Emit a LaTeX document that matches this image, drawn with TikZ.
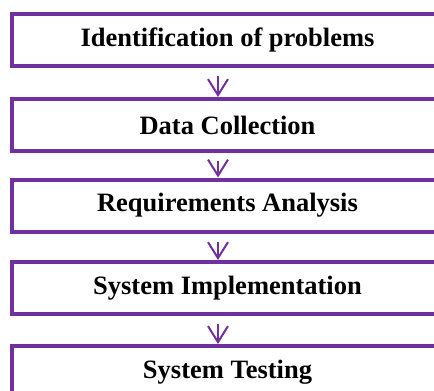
\documentclass[tikz,border=0pt]{standalone}
\usepackage{fontspec}
\setmainfont{Liberation Serif}
\usetikzlibrary{positioning,arrows.meta}
\definecolor{stagepurple}{RGB}{112,48,160}

\begin{document}
\begin{tikzpicture}
[x=1pt,y=1pt,
 stage/.style={rectangle,draw=stagepurple,line width=4pt,minimum width=431pt,minimum height=52pt,
               inner sep=0pt,font=\fontsize{26.5}{30}\selectfont\bfseries},
 flow/.style={stagepurple,line width=2pt,-{Straight Barb[length=16pt,width=20pt]}}]
\clip (0,0) rectangle (434,-391);
\useasboundingbox (0,0) rectangle (434,-391);

\node[stage] (s1) at (227.5,-40)               {Identification of problems};
\node[stage] (s2) [on grid,below=85pt of s1]   {Data Collection};
\node[stage] (s3) [on grid,below=80.5pt of s2] {Requirements Analysis};
\node[stage] (s4) [on grid,below=82.5pt of s3] {System Implementation};
\node[stage] (s5) [on grid,below=84pt of s4]   {System Testing};

\foreach \a/\b in {s1/s2,s2/s3,s3/s4,s4/s5}
  \draw[flow] ([xshift=-9.5pt,yshift=-8pt]\a.south) -- ([xshift=-9.5pt]\b.north);
\end{tikzpicture}
\end{document}
